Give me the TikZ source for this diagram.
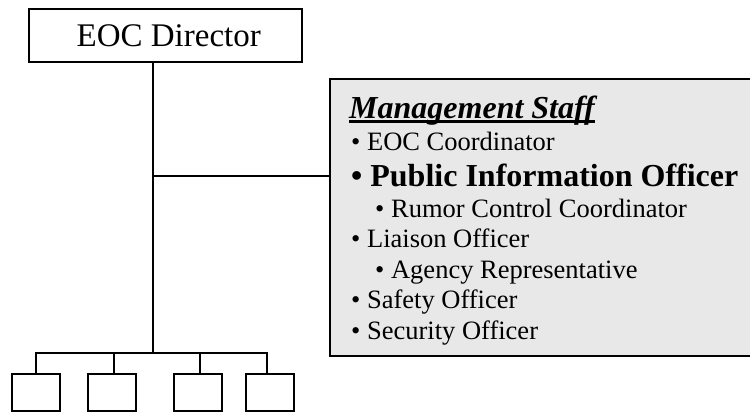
\documentclass[tikz,border=0pt]{standalone}
\usepackage{fontspec}
\setmainfont{Liberation Serif}
\definecolor{mgfill}{HTML}{E8E8E8}
\begin{document}
\begin{tikzpicture}[x=1pt,y=-1pt,
  conn/.style={draw, line width=2pt, line cap=rect},
  orgbox/.style={draw, line width=2pt, inner sep=0pt, minimum width=48pt, minimum height=37pt},
  item/.style={anchor=base west, inner sep=0pt, font=\fontsize{26.5}{30}\selectfont},
  ul/.style={line width=2.7pt}]
\useasboundingbox (0,0) rectangle (750,413);
\clip (0,0) rectangle (750,413);
% management staff panel
\node[draw, fill=mgfill, line width=2.3pt, inner sep=0pt, minimum width=440pt, minimum height=277pt, anchor=north west] (mgmt) at (329,78) {};
% director
\node[draw, line width=2pt, inner sep=0pt, minimum width=273pt, minimum height=53pt,
      font=\fontsize{33}{36}\selectfont, text height=22pt, text depth=0pt] (dir) at (165.8,35.8) {\kern6pt EOC Director};
% trunk
\coordinate (hub) at (153.3,352.5);
\draw[conn] (dir.south -| hub) -- (hub);
\coordinate (mj) at (153.3,176);
\draw[conn] (mj) -- (mgmt.west |- mj);
% bottom boxes
\node[orgbox] (b1) at (36,392.9) {};
\node[orgbox] (b2) at (111.7,392.9) {};
\node[orgbox] (b3) at (197.7,392.9) {};
\node[orgbox] (b4) at (270,392.9) {};
\coordinate (d1) at (35.5,352.5);
\coordinate (d2) at (113.8,352.5);
\coordinate (d3) at (200,352.5);
\coordinate (d4) at (267.2,352.5);
\draw[conn] (d1) -- (d4);
\draw[conn] (d1) -- (d1 |- b1.north);
\draw[conn] (d2) -- (d2 |- b2.north);
\draw[conn] (d3) -- (d3 |- b3.north);
\draw[conn] (d4) -- (d4 |- b4.north);
% texts
\node[item, font=\fontsize{32}{36}\selectfont\bfseries\itshape] (title) at (349,118) {Management Staff};
\draw[ul] ([yshift=-3.5pt]title.base west) -- ([yshift=-3.5pt]title.base east);
\node[item] (i1) at (351,150) {• EOC Coordinator};
\node[item, font=\fontsize{32}{36}\selectfont\bfseries] (i2) at (351,186) {• Public Information Officer};
\node[item] (i3) at (375,217) {• Rumor Control Coordinator};
\node[item] (i4) at (351,247) {• Liaison Officer};
\node[item] (i5) at (375,278) {• Agency Representative};
\node[item] (i6) at (351,308) {• Safety Officer};
\node[item] (i7) at (351,339) {• Security Officer};
\end{tikzpicture}
\end{document}
